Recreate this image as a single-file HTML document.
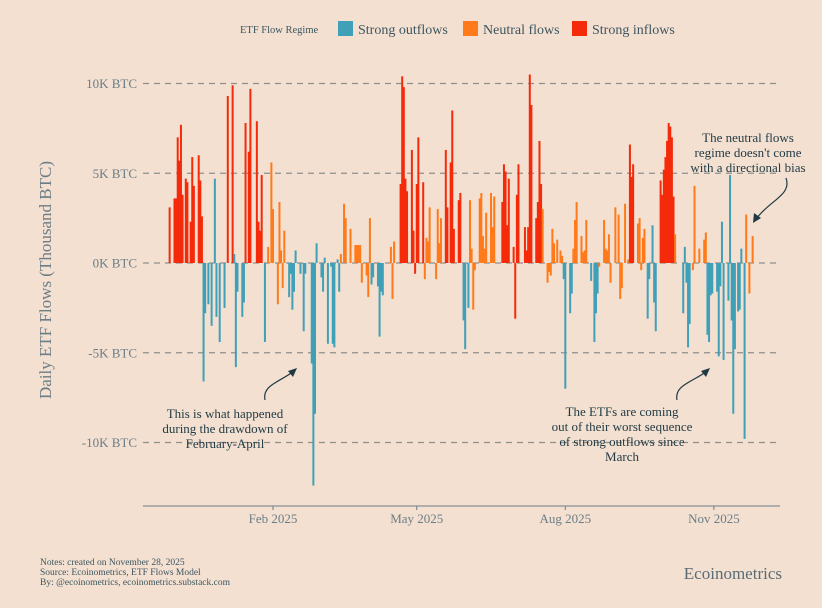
<!DOCTYPE html>
<html><head><meta charset="utf-8">
<style>
html,body{margin:0;padding:0;background:#f3e0d1;}
svg{display:block;font-family:"Liberation Serif",serif;}
</style></head>
<body>
<svg id="chart" width="822" height="608" viewBox="0 0 822 608" xmlns="http://www.w3.org/2000/svg">
<rect x="0" y="0" width="822" height="608" fill="#f3e0d1"/>
<g id="legend">
  <text x="240" y="33" font-size="10.5" fill="#3d5560">ETF Flow Regime</text>
  <rect x="338" y="21" width="15" height="15" fill="#3fa0b8"/>
  <text x="358" y="34" font-size="14" fill="#3d5560">Strong outflows</text>
  <rect x="463" y="21" width="15" height="15" fill="#ff7a1a"/>
  <text x="483" y="34" font-size="14" fill="#3d5560">Neutral flows</text>
  <rect x="572" y="21" width="15" height="15" fill="#f52a0a"/>
  <text x="592" y="34" font-size="14" fill="#3d5560">Strong inflows</text>
</g>
<g id="grid"></g>
<g id="bars"></g>
<g id="xaxis"></g>
<text transform="translate(51,280) rotate(-90)" text-anchor="middle" font-size="17" fill="#6b7d86">Daily ETF Flows (Thousand BTC)</text>
<g fill="#1f3a44" font-size="13" text-anchor="middle">
  <text x="225" y="418">This is what happened</text>
  <text x="225" y="433">during the drawdown of</text>
  <text x="225" y="448">February-April</text>
</g>
<path d="M265,400 C262,385 280,382 294,371" fill="none" stroke="#1f3a44" stroke-width="1.2"/>
<path d="M297,368 L288,371 L293,377 Z" fill="#1f3a44"/>
<g fill="#1f3a44" font-size="13" text-anchor="middle">
  <text x="622" y="416">The ETFs are coming</text>
  <text x="622" y="431">out of their worst sequence</text>
  <text x="622" y="446">of strong outflows since</text>
  <text x="622" y="461">March</text>
</g>
<path d="M677,400 C674,385 693,382 707,371" fill="none" stroke="#1f3a44" stroke-width="1.2"/>
<path d="M710,368 L701,371 L706,377 Z" fill="#1f3a44"/>
<g fill="#1f3a44" font-size="13" text-anchor="middle">
  <text x="748" y="142">The neutral flows</text>
  <text x="748" y="157">regime doesn't come</text>
  <text x="748" y="172">with a directional bias</text>
</g>
<path d="M786,178 C792,195 770,200 756,219" fill="none" stroke="#1f3a44" stroke-width="1.2"/>
<path d="M753,223 L754,213 L761,218 Z" fill="#1f3a44"/>
<g fill="#3d5560" font-size="9.5">
  <text x="40" y="565">Notes: created on November 28, 2025</text>
  <text x="40" y="575">Source: Ecoinometrics, ETF Flows Model</text>
  <text x="40" y="585">By: @ecoinometrics, ecoinometrics.substack.com</text>
</g>
<text x="782" y="579" text-anchor="end" font-size="17" fill="#5a6d76">Ecoinometrics</text>
</svg>
<script>
// days relative to 2025-02-01
const days = [-64,-61,-60,-59,-58,-57,-56,-54,-53,-51,-50,-49,-46,-45,-44,-43,-42,-40,-38,-36,-35,-33,-30,-28,-25,-24,-23,-22,-19,-18,-17,-15,-14,-10,-9,-8,-7,
-5,-3,-1,0,3,4,5,6,7,10,11,12,13,14,17,19,20,24,25,26,27,30,31,32,34,36,37,38,40,41,42,44,45,48,51,52,53,54,55,58,59,60,61,62,65,66,67,68,73,74,75,
79,80,81,82,83,86,87,88,89,90,93,94,95,96,97,101,102,103,104,107,108,110,111,112,115,116,118,119,121,122,123,124,125,128,129,130,131,132,135,136,137,
142,143,144,145,146,149,150,151,152,156,157,158,159,160,163,164,165,166,167,170,171,172,173,174,176,178,179,180,181,184,185,186,187,188,191,192,193,194,
197,199,200,201,202,205,206,207,208,209,212,214,215,216,218,220,221,222,223,226,227,228,229,230,232,233,235,236,237,240,241,242,243,244,245,246,247,248,249,
254,255,256,257,258,260,261,264,267,268,269,270,271,272,275,276,277,278,279,282,283,284,285,286,288,289,290,292,293,295,297];
const flows = [3.1,3.6,3.6,7.0,5.7,7.7,3.8,4.7,4.5,2.3,5.9,4.3,6.0,4.6,2.6,-6.6,-2.8,-2.3,-3.5,4.7,-3.0,-4.4,-2.5,9.3,9.9,0.5,-5.8,-1.6,-3.0,-2.2,7.8,6.2,9.7,7.9,2.3,1.8,4.9,
-4.4,0.9,5.6,3.0,-2.3,3.4,0.7,-1.4,1.8,-1.9,-0.6,-2.6,-1.6,0.7,-0.6,-3.8,-0.6,-5.6,-12.4,-8.4,1.1,-0.8,-1.6,0.3,-4.5,-0.2,-4.5,-4.7,0.2,-1.6,0.5,3.3,2.5,1.9,1.0,1.0,1.0,1.0,-1.1,-0.7,-1.9,2.5,-1.2,-0.8,-1.3,-4.1,-1.6,-1.8,0.9,-2.0,1.2,
4.4,10.4,9.8,4.7,4.0,6.3,1.8,-0.6,4.4,7.0,4.5,-0.9,1.4,1.2,3.1,-0.9,3.0,1.1,2.5,6.3,3.1,5.6,8.5,1.9,3.5,3.9,-3.2,-4.8,-2.5,3.5,0.8,-2.6,-0.4,3.6,3.9,1.5,0.8,2.8,3.9,2.0,3.7,
3.4,5.5,5.1,2.1,4.7,0.9,-3.1,3.8,5.5,2.0,0.7,2.0,10.5,8.8,2.5,3.4,6.8,4.4,3.0,-1.1,-0.5,-0.7,1.9,1.1,1.3,0.7,0.4,-0.9,-7.0,-2.8,-1.7,0.8,2.4,3.4,1.5,0.6,0.7,2.4,
-1.0,-4.4,-2.8,-1.7,-0.2,2.4,0.8,0.7,1.6,-1.1,3.1,2.7,-2.0,-1.4,3.3,0.2,6.6,4.8,5.5,2.2,2.5,-0.4,1.4,1.9,-3.1,-0.9,2.1,-2.2,-3.8,4.6,3.8,5.2,5.9,6.8,7.8,7.6,7.0,3.7,1.6,
-2.8,0.9,-1.1,-4.7,-3.4,-0.4,4.3,0.8,1.3,1.7,-4.0,-4.4,-1.8,-1.7,-1.6,-5.2,-1.3,2.3,-5.4,-2.1,4.9,-3.2,-8.4,-4.8,-2.7,-2.6,0.8,-9.8,2.7,-1.7,1.5];
// regime per bar: r = strong inflows, o = neutral, b = strong outflows
const regimes = [
"r","r","r","r","r","r","r","r","r","r","r","r","r","r","r",
"b","b","b","b","b","b","b","b",
"r","r",
"b","b","b","b","b",
"r","r","r","r","r","r","r",
"b",
"o","o","o","o","o","o","o","o",
"b","b","b","b","b","b","b","b","b","b","b","b","b","b","b","b","b","b","b","b","b",
"o","o","o","o","o","o","o","o","o","o","o","o",
"b","b","b","b","b","b",
"o","o","o",
"r","r","r","r","r","r","r","r","r","r","r",
"o","o","o","o","o","o","o","o",
"r","r","r","r","r","r","r",
"b","b","b",
"o","o","o","o","o","o","o","o","o","o","o","o",
"r","r","r","r","r","r","r","r","r","r","r","r","r","r","r","r","r","r",
"o","o","o","o","o","o","o","o","o",
"b","b","b","b",
"o","o","o","o","o","o","o",
"b","b","b","b",
"o","o","o","o","o","o","o","o","o","o","o","o",
"r","r","r",
"o","o","o","o","o",
"b","b","b","b","b",
"r","r","r","r","r","r","r","r","r",
"o",
"b","b","b","b","b",
"o","o","o","o","o",
"b","b","b","b","b","b","b","b","b","b","b","b","b","b","b","b","b","b",
"o","o","o"];
const yTicks = [10,5,0,-5,-10];
const yTickLabels = ["10K BTC","5K BTC","0K BTC","-5K BTC","-10K BTC"];
const xTickDays = [0,89,181,273];
const xTickLabels = ["Feb 2025","May 2025","Aug 2025","Nov 2025"];

const colors = {b:"#3fa0b8", o:"#ff7a1a", r:"#f52a0a"};
const X0 = 143, X1 = 780;
function xScale(d){ return 273 + d*1.615; }
function yScale(v){ return 263 - v*17.95; }
const NS = "http://www.w3.org/2000/svg";
const grid = document.getElementById('grid');
yTicks.forEach((t,i)=>{
  const l = document.createElementNS(NS,'line');
  l.setAttribute('x1',X0); l.setAttribute('x2',X1);
  l.setAttribute('y1',yScale(t)); l.setAttribute('y2',yScale(t));
  l.setAttribute('stroke','#8f8f8c'); l.setAttribute('stroke-width','1.3'); l.setAttribute('stroke-dasharray','6 5');
  
  
  grid.appendChild(l);
  const tx = document.createElementNS(NS,'text');
  tx.setAttribute('x',137); tx.setAttribute('y',yScale(t)+4.5);
  tx.setAttribute('text-anchor','end'); tx.setAttribute('font-size','13'); tx.setAttribute('fill','#6b7d86');
  tx.textContent = yTickLabels[i];
  
  
  grid.appendChild(tx);
});
const bars = document.getElementById('bars');
days.forEach((d,i)=>{
  const v = flows[i];
  const r = document.createElementNS(NS,'rect');
  const y0 = yScale(0), y1 = yScale(v);
  r.setAttribute('x', xScale(d)-1);
  r.setAttribute('width', 2);
  r.setAttribute('y', Math.min(y0,y1));
  r.setAttribute('height', Math.max(0.5,Math.abs(y1-y0)));
  r.setAttribute('fill', colors[regimes[i]] || colors.o);
  
  
  bars.appendChild(r);
});
const xa = document.getElementById('xaxis');
const ax = document.createElementNS(NS,'line');
ax.setAttribute('x1',X0); ax.setAttribute('x2',X1); ax.setAttribute('y1',506); ax.setAttribute('y2',506);
ax.setAttribute('stroke','#6b7d86'); ax.setAttribute('stroke-width','1');


xa.appendChild(ax);
xTickDays.forEach((d,i)=>{
  const tk = document.createElementNS(NS,'line');
  tk.setAttribute('x1',xScale(d)); tk.setAttribute('x2',xScale(d)); tk.setAttribute('y1',506); tk.setAttribute('y2',510);
  tk.setAttribute('stroke','#6b7d86');
  
  
  xa.appendChild(tk);
  const tx = document.createElementNS(NS,'text');
  tx.setAttribute('x',xScale(d)); tx.setAttribute('y',523);
  tx.setAttribute('text-anchor','middle'); tx.setAttribute('font-size','13'); tx.setAttribute('fill','#6b7d86');
  tx.textContent = xTickLabels[i];
  
  
  xa.appendChild(tx);
});
</script>
</body></html>
